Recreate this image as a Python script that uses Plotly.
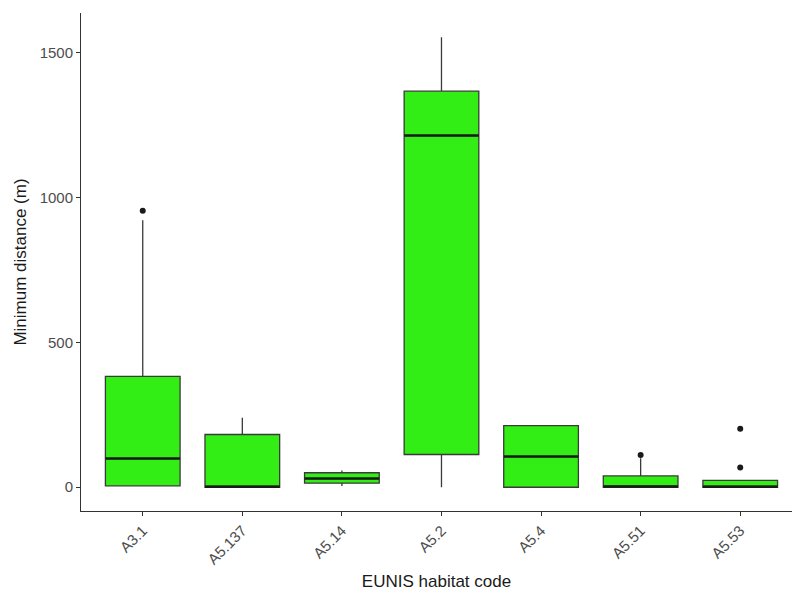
import plotly.graph_objects as go

# Habitat codes and summary statistics of minimum distance (m)
habitats = ["A3.1", "A5.137", "A5.14", "A5.2", "A5.4", "A5.51", "A5.53"]
q1 = [5, 0, 14, 113, 0, 0, 0]
median = [99, 2, 30, 1214, 106, 3, 2]
q3 = [383, 182, 50, 1367, 213, 39, 24]
lower_whisker = [5, 0, 4, 0, 0, 0, 0]
upper_whisker = [922, 240, 58, 1553, 213, 100, 24]

# Outlying observations (habitat, distance)
outlier_habitat = ["A3.1", "A5.51", "A5.53", "A5.53"]
outlier_value = [954, 111, 68, 202]

y_ticks = [0, 500, 1000, 1500]

FILL = "#33ee14"
EDGE = "#3a3a3a"
DARK = "#1a1a1a"
BOX_W = 0.75

pos = {h: i for i, h in enumerate(habitats)}

fig = go.Figure()

for i, h in enumerate(habitats):
    fig.add_trace(go.Box(
        x=[i], q1=[q1[i]], median=[median[i]], q3=[q3[i]],
        lowerfence=[lower_whisker[i]], upperfence=[upper_whisker[i]],
        width=BOX_W, whiskerwidth=0,
        fillcolor=FILL, line=dict(color=EDGE, width=1.3),
        showlegend=False, hoverinfo="skip",
    ))
    # heavier median bar, as in ggplot
    fig.add_trace(go.Scatter(
        x=[i - BOX_W / 2, i + BOX_W / 2], y=[median[i], median[i]],
        mode="lines", line=dict(color=DARK, width=2.5),
        showlegend=False, hoverinfo="skip",
    ))

fig.add_trace(go.Scatter(
    x=[pos[h] for h in outlier_habitat], y=outlier_value,
    mode="markers", marker=dict(color=DARK, size=6),
    showlegend=False, hoverinfo="skip",
))

axis_common = dict(
    showline=True, linecolor="#333333", linewidth=1,
    ticks="outside", ticklen=4, tickcolor="#333333",
    showgrid=False, zeroline=False,
    tickfont=dict(family="Liberation Sans, Arial, sans-serif", size=15, color="#4d4d4d"),
    title_font=dict(family="Liberation Sans, Arial, sans-serif", size=17, color="#1a1a1a"),
)

fig.update_xaxes(
    range=[-0.62, 6.52],
    tickvals=list(range(len(habitats))), ticktext=habitats,
    tickangle=-45,
    title_text="EUNIS habitat code", title_standoff=8,
    **axis_common,
)
fig.update_yaxes(
    range=[-82, 1637],
    tickvals=y_ticks, ticktext=[str(v) for v in y_ticks],
    title_text="Minimum distance (m)", title_standoff=8,
    **axis_common,
)

fig.update_layout(
    width=792, height=591,
    margin=dict(l=81, r=0, t=13, b=80),
    paper_bgcolor="white", plot_bgcolor="white",
    font=dict(family="Liberation Sans, Arial, sans-serif"),
)

fig.write_html("out.html")
